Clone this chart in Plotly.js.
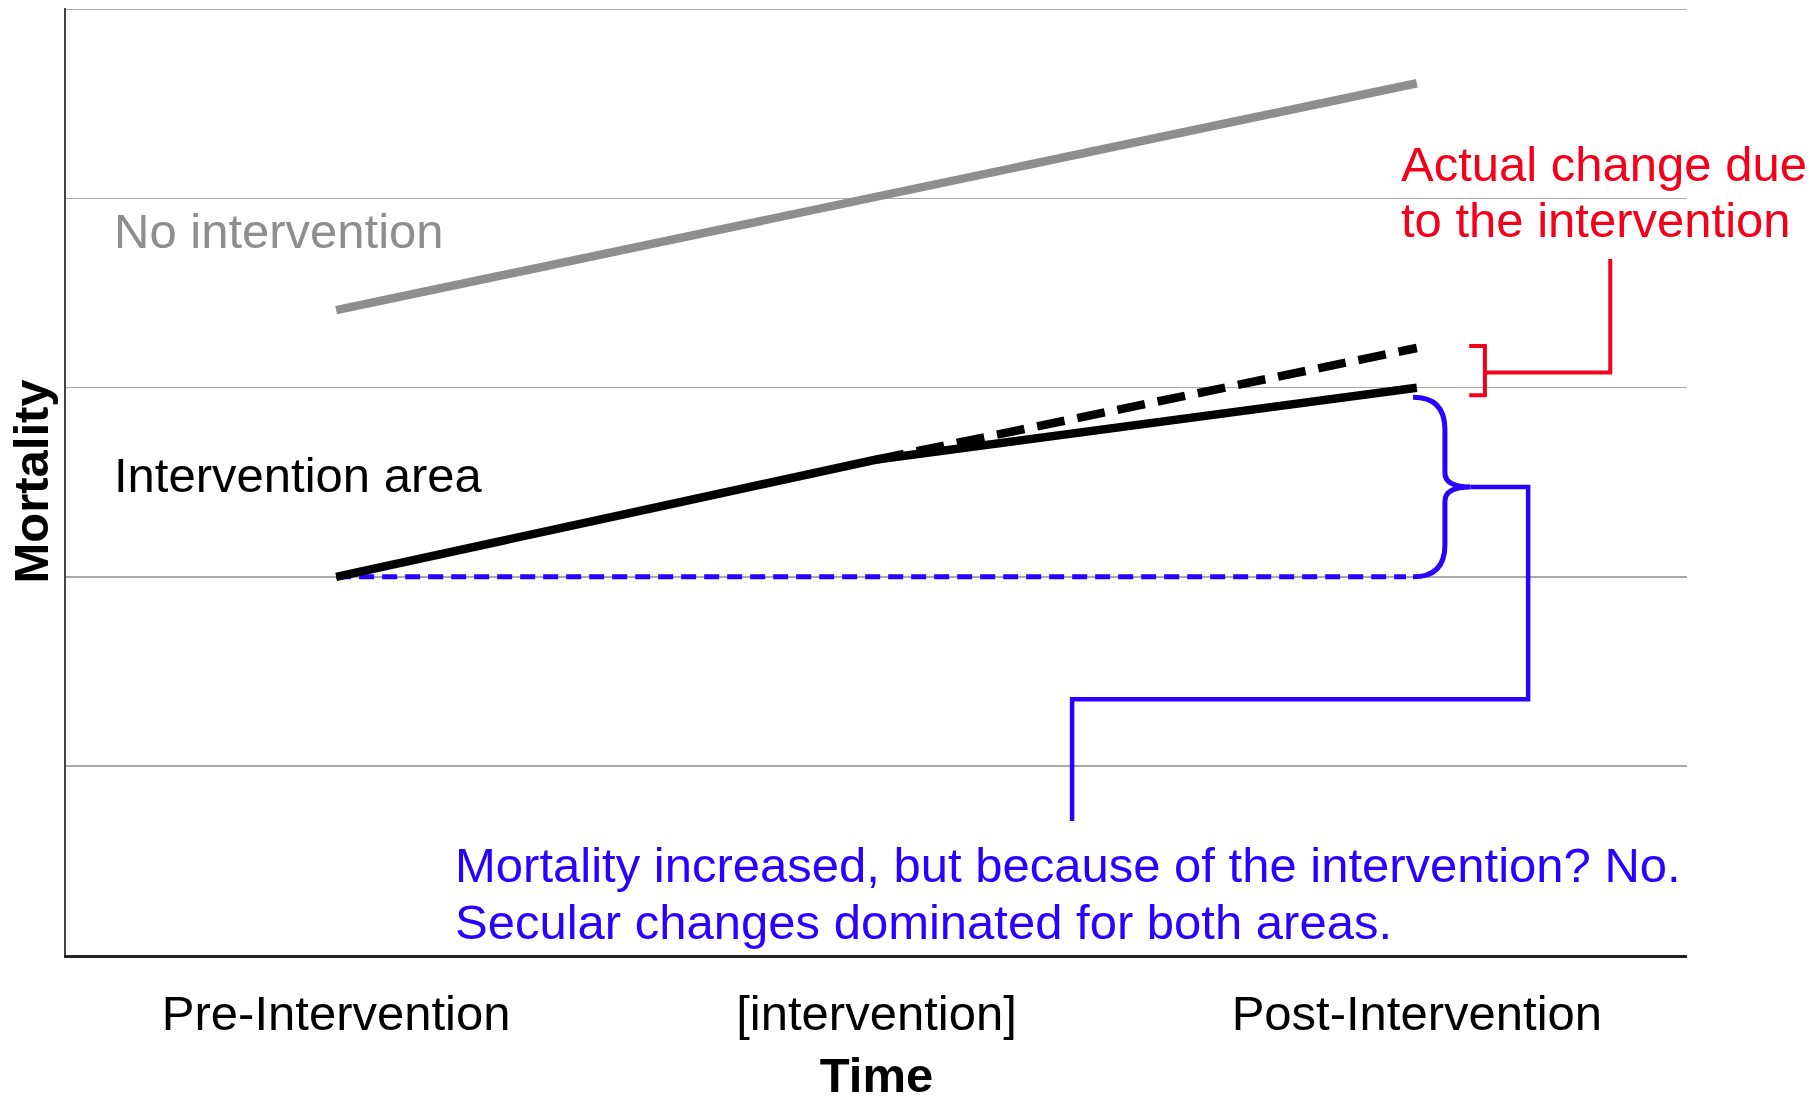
<!DOCTYPE html>
<html>
<head>
<meta charset="utf-8">
<script src="https://cdn.plot.ly/plotly-3.0.1.min.js"></script>
<style>
  html, body { margin: 0; padding: 0; background: #ffffff; }
  #chart { width: 1817px; height: 1102px; }
</style>
</head>
<body>
<div id="chart"></div>
<script>
// ---- Data ----
const timeLabels = ['Pre-Intervention', '[intervention]', 'Post-Intervention'];
const timeX = [0, 1, 2];

const noInterventionX = [0, 2];
const noInterventionY = [3.41, 4.61];

const interventionX = [0, 1, 2];
const interventionY = [2.0, 2.62, 3.0];

const expectedTrendX = [1, 2];
const expectedTrendY = [2.62, 3.21];

const baselineX = [0, 1.98];
const baselineY = [2.0, 2.0];

const gridValues = [1, 2, 3, 4, 5];

// ---- Styling ----
const FONT = 'Liberation Sans, Arial, Helvetica, sans-serif';
const FS = 49;
const GRAY = '#8e8e8e';
const BLUE = '#2a00ff';
const RED = '#f5001a';

const traces = [
  {
    x: noInterventionX, y: noInterventionY, mode: 'lines', type: 'scatter',
    line: { color: GRAY, width: 8.5 }, hoverinfo: 'skip', showlegend: false
  },
  {
    x: baselineX, y: baselineY, mode: 'lines', type: 'scatter',
    line: { color: BLUE, width: 5, dash: '15px,8px' }, hoverinfo: 'skip', showlegend: false
  },
  {
    x: expectedTrendX, y: expectedTrendY, mode: 'lines', type: 'scatter',
    line: { color: '#000000', width: 8.5, dash: '28px,13px' }, hoverinfo: 'skip', showlegend: false
  },
  {
    x: interventionX, y: interventionY, mode: 'lines', type: 'scatter',
    line: { color: '#000000', width: 8.5 }, hoverinfo: 'skip', showlegend: false
  }
];

// bracket geometry (data units), tied to the line end values
const endX = interventionX[interventionX.length - 1];
const solidEnd = interventionY[interventionY.length - 1];
const dashEnd = expectedTrendY[expectedTrendY.length - 1];
const base = baselineY[0];

const redTop = dashEnd + 0.01, redBot = solidEnd - 0.04, redMid = (redTop + redBot) / 2 - 0.01;
const redPath = `M 2.097,${redTop} L 2.126,${redTop} L 2.126,${redBot} L 2.097,${redBot} ` +
                `M 2.126,${redMid} L 2.358,${redMid} L 2.358,3.68`;

const bTop = solidEnd - 0.05, bBot = base, bMid = (bTop + bBot) / 2;
const bx0 = endX - 0.007, bxv = 2.052, bxp = 2.099;
const bracePath = `M ${bx0},${bTop} Q ${bxv},${bTop} ${bxv},${bTop - 0.17} L ${bxv},${bMid + 0.075} ` +
                  `Q ${bxv},${bMid} ${bxp},${bMid} Q ${bxv},${bMid} ${bxv},${bMid - 0.075} ` +
                  `L ${bxv},${bBot + 0.17} Q ${bxv},${bBot} ${bx0},${bBot}`;
const connectorPath = `M ${bxp},${bMid} L 2.206,${bMid} L 2.206,1.353 L 1.362,1.353 L 1.362,0.708`;

const layout = {
  width: 1817, height: 1102,
  margin: { l: 66, r: 130, t: 8, b: 147, pad: 0 },
  paper_bgcolor: '#ffffff', plot_bgcolor: '#ffffff',
  font: { family: FONT, size: FS, color: '#000000' },
  showlegend: false,
  xaxis: {
    range: [-0.5, 2.5], tickvals: timeX, ticktext: timeLabels,
    showgrid: false, zeroline: false, showline: true, linecolor: '#222222', linewidth: 3,
    ticks: '', ticklabelstandoff: 13,
    tickfont: { family: FONT, size: FS, color: '#000000' },
    title: { text: '<b>Time</b>', font: { family: FONT, size: FS, color: '#000000' }, standoff: 32 },
    fixedrange: true
  },
  yaxis: {
    range: [0, 5.008], tickvals: gridValues, showticklabels: false,
    showgrid: true, gridcolor: '#a8a8a8', gridwidth: 1.5,
    zeroline: false, showline: true, linecolor: '#444444', linewidth: 2, ticks: '',
    title: { text: '<b>Mortality</b>', font: { family: FONT, size: FS, color: '#000000' }, standoff: 0 },
    fixedrange: true
  },
  shapes: [
    { type: 'path', xref: 'x', yref: 'y', path: redPath, line: { color: RED, width: 4 } },
    { type: 'path', xref: 'x', yref: 'y', path: bracePath, line: { color: BLUE, width: 5 } },
    { type: 'path', xref: 'x', yref: 'y', path: connectorPath, line: { color: BLUE, width: 4.5 } }
  ],
  annotations: [
    { x: -0.415, y: 3.828, xref: 'x', yref: 'y', text: 'No intervention', showarrow: false,
      xanchor: 'left', yanchor: 'middle', font: { family: FONT, size: FS, color: GRAY } },
    { x: -0.415, y: 2.538, xref: 'x', yref: 'y', text: 'Intervention area', showarrow: false,
      xanchor: 'left', yanchor: 'middle', font: { family: FONT, size: FS, color: '#000000' } },
    { x: 1.967, y: 4.185, xref: 'x', yref: 'y', text: 'Actual change due', showarrow: false,
      xanchor: 'left', yanchor: 'middle', font: { family: FONT, size: FS, color: RED } },
    { x: 1.967, y: 3.886, xref: 'x', yref: 'y', text: 'to the intervention', showarrow: false,
      xanchor: 'left', yanchor: 'middle', font: { family: FONT, size: FS, color: RED } },
    { x: 0.217, y: 0.478, xref: 'x', yref: 'y', text: 'Mortality increased, but because of the intervention? No.', showarrow: false,
      xanchor: 'left', yanchor: 'middle', font: { family: FONT, size: FS, color: BLUE } },
    { x: 0.217, y: 0.172, xref: 'x', yref: 'y', text: 'Secular changes dominated for both areas.', showarrow: false,
      xanchor: 'left', yanchor: 'middle', font: { family: FONT, size: FS, color: BLUE } }
  ]
};

Plotly.newPlot('chart', traces, layout, { displayModeBar: false, staticPlot: true });
</script>
</body>
</html>
